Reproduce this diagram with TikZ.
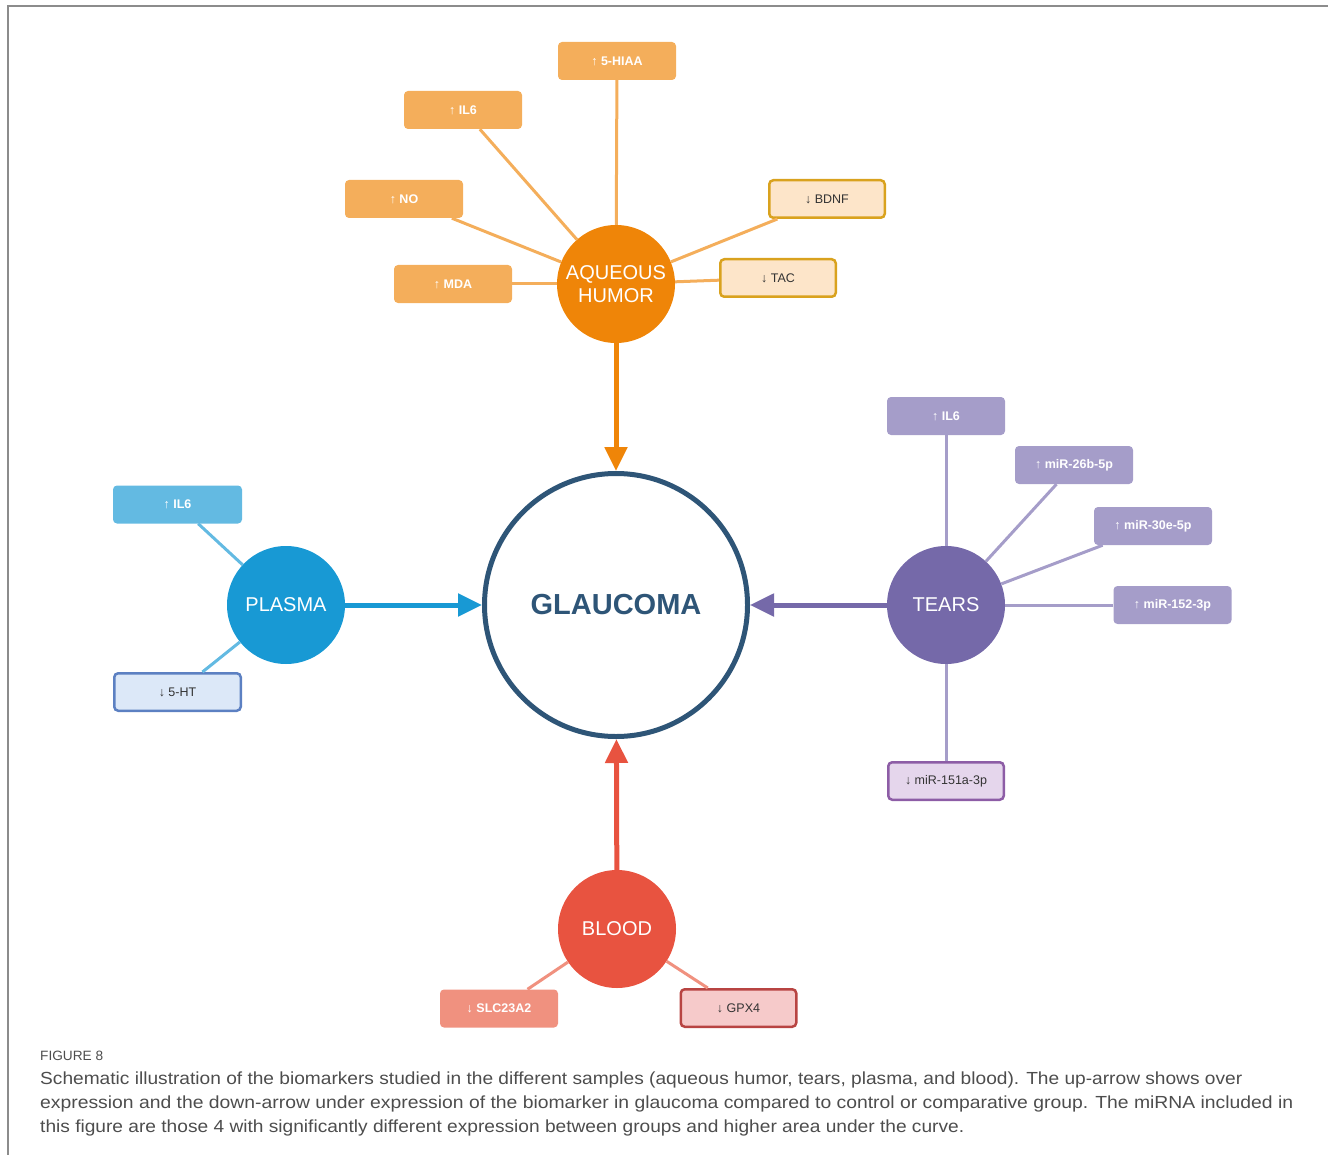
\documentclass[tikz,border=0pt]{standalone}
\usepackage{fontspec}
\usepackage{graphicx}
\setmainfont{Liberation Sans}
\usetikzlibrary{arrows.meta}
\definecolor{aqC}{HTML}{EF8508}
\definecolor{aqB}{HTML}{F4AE5B}
\definecolor{aqLF}{HTML}{FDE5C9}
\definecolor{aqLB}{HTML}{D9A21E}
\definecolor{teC}{HTML}{7569A9}
\definecolor{teB}{HTML}{A59DC9}
\definecolor{teLF}{HTML}{E5D6EC}
\definecolor{teLB}{HTML}{8D5DA6}
\definecolor{plC}{HTML}{1899D4}
\definecolor{plB}{HTML}{63BAE2}
\definecolor{plLF}{HTML}{DCE8F8}
\definecolor{plLB}{HTML}{5C80C2}
\definecolor{blC}{HTML}{E85340}
\definecolor{blB}{HTML}{F0917F}
\definecolor{blLF}{HTML}{F6CACA}
\definecolor{blLB}{HTML}{B84442}
\definecolor{glC}{HTML}{2E5577}
\definecolor{darktxt}{HTML}{333333}
\definecolor{capC}{HTML}{4D4D4D}
\definecolor{frameC}{HTML}{8C8C8C}
\begin{document}
\begin{tikzpicture}[x=1pt,y=-1pt,
  samp/.style={circle, minimum size=118pt, inner sep=0pt, text=white,
    font=\fontsize{20}{23}\selectfont, align=center},
  bx/.style={rounded corners=4pt, minimum width=118pt, minimum height=38pt,
    inner sep=0pt, text=white, font=\fontsize{12.5}{15}\selectfont\bfseries},
  bxo/.style={rounded corners=4pt, minimum width=115.5pt, minimum height=37.5pt,
    inner sep=0pt, line width=2.5pt, text=darktxt, font=\fontsize{12.5}{15}\selectfont},
  link/.style={line width=3pt},
  arr/.style={line width=5pt, -{Triangle[length=24pt,width=22pt]}}
]
\useasboundingbox (0,0) rectangle (1329,1155);
% frame
\draw[frameC, line width=2pt] (8,1155) -- (8,6) -- (1328,6);

% main circle
\node[circle, draw=glC, line width=5pt, minimum size=263pt, inner sep=0pt,
  text=glC, font=\fontsize{29}{34}\selectfont\bfseries] (gl) at (616,605) {GLAUCOMA};

% sample circles
\node[samp, fill=aqC] (aq) at (616,284) {AQUEOUS\\HUMOR};
\node[samp, fill=teC] (te) at (946,605) {TEARS};
\node[samp, fill=plC] (pl) at (286,605) {PLASMA};
\node[samp, fill=blC] (bl) at (617,929) {BLOOD};

% aqueous humor boxes
\node[bx, fill=aqB] (a1) at (617,61) {↑ 5-HIAA};
\node[bx, fill=aqB] (a2) at (463,110) {↑ IL6};
\node[bx, fill=aqB] (a3) at (404,199) {↑ NO};
\node[bx, fill=aqB] (a4) at (453,284) {↑ MDA};
\node[bxo, fill=aqLF, draw=aqLB] (a5) at (827,199) {↓ BDNF};
\node[bxo, fill=aqLF, draw=aqLB] (a6) at (778,278) {↓ TAC};

% tears boxes
\node[bx, fill=teB] (t1) at (946,416) {↑ IL6};
\node[bx, fill=teB] (t2) at (1074,465) {↑ miR-26b-5p};
\node[bx, fill=teB] (t3) at (1153,526) {↑ miR-30e-5p};
\node[bx, fill=teB] (t4) at (1172.5,605) {↑ miR-152-3p};
\node[bxo, fill=teLF, draw=teLB] (t5) at (946,781) {↓ miR-151a-3p};

% plasma boxes
\node[bx, fill=plB, minimum width=129pt] (p1) at (177.5,504.5) {↑ IL6};
\node[bxo, fill=plLF, draw=plLB, minimum width=126.5pt] (p2) at (177.5,692) {↓ 5-HT};

% blood boxes
\node[bx, fill=blB] (b1) at (499,1008.5) {↓ SLC23A2};
\node[bxo, fill=blLF, draw=blLB] (b2) at (738.5,1008) {↓ GPX4};

% links
\foreach \b in {a1,a2,a3,a4,a5,a6} \draw[link, aqB] (\b) -- (aq);
\foreach \b in {t1,t2,t3,t4,t5} \draw[link, teB] (\b) -- (te);
\foreach \b in {p1,p2} \draw[link, plB] (\b) -- (pl);
\foreach \b in {b1,b2} \draw[link, blB] (\b) -- (bl);

% arrows to glaucoma
\draw[arr, aqC] (aq) -- (gl);
\draw[arr, teC] (te) -- (gl);
\draw[arr, plC] (pl) -- (gl);
\draw[arr, blC] (bl) -- (gl);

% caption
\node[anchor=base west, inner sep=0pt, text=capC, font=\fontsize{13.5}{16}\selectfont] (fig) at (40,1060)
  {\resizebox{63pt}{\height}{FIGURE 8}};
\node[anchor=base west, inner sep=0pt, text=capC, font=\fontsize{17.5}{21}\selectfont] (c1) at (40,1084)
  {\resizebox{1202pt}{\height}{Schematic illustration of the biomarkers studied in the different samples (aqueous humor, tears, plasma, and blood). The up-arrow shows over}};
\node[anchor=base west, inner sep=0pt, text=capC, font=\fontsize{17.5}{21}\selectfont] (c2) at (40,1108)
  {\resizebox{1253pt}{\height}{expression and the down-arrow under expression of the biomarker in glaucoma compared to control or comparative group. The miRNA included in}};
\node[anchor=base west, inner sep=0pt, text=capC, font=\fontsize{17.5}{21}\selectfont] (c3) at (40,1132)
  {\resizebox{924pt}{\height}{this figure are those 4 with significantly different expression between groups and higher area under the curve.}};
\end{tikzpicture}
\end{document}
